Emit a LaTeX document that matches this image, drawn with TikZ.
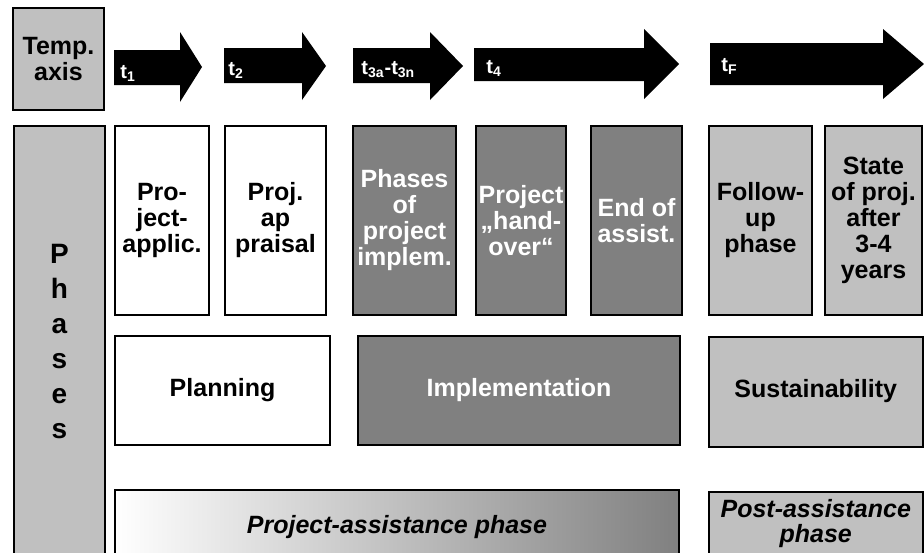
\documentclass[tikz,border=0pt]{standalone}
\usepackage{fontspec}
\setmainfont{Liberation Sans}
\definecolor{lightgr}{HTML}{C0C0C0}
\definecolor{darkgr}{HTML}{808080}
\tikzset{
  box/.style={draw, line width=1pt, align=center, inner sep=0pt, font=\fontsize{12.5}{13}\selectfont\bfseries},
  lightbox/.style={box, fill=lightgr},
  darkbox/.style={box, fill=darkgr, text=white},
  whitebox/.style={box, fill=white},
  tlabel/.style={anchor=west, text=white, inner sep=0pt, font=\fontsize{10}{11}\selectfont\bfseries},
}
\begin{document}
\begin{tikzpicture}[x=0.5pt, y=-0.5pt]
  \useasboundingbox (0,0) rectangle (924,552);
  \clip (0,0) rectangle (924,552);
  % time axis
  \node[lightbox, minimum width=45.5pt, minimum height=51pt] (axis) at (58.5,59) {Temp.\\axis};
  \fill (114,50) -- (180,50) -- (180,32) -- (202,67) -- (180,102) -- (180,85) -- (114,85) -- cycle;
  \fill (224,48) -- (302,48) -- (302,32) -- (326,66) -- (302,100) -- (302,83) -- (224,83) -- cycle;
  \fill (353,48) -- (430,48) -- (430,32) -- (463,66) -- (430,100) -- (430,83) -- (353,83) -- cycle;
  \fill (474,48) -- (644,48) -- (644,29) -- (679,64) -- (644,99) -- (644,81) -- (474,81) -- cycle;
  \fill (710,43) -- (883,43) -- (883,29) -- (924,64) -- (883,99) -- (883,85) -- (710,85) -- cycle;
  \node[tlabel] (t1) at (120,73) {t\textsubscript{1}};
  \node[tlabel] (t2) at (228,70) {t\textsubscript{2}};
  \node[tlabel] (t3) at (361,70) {t\textsubscript{3a}-t\textsubscript{3n}};
  \node[tlabel] (t4) at (486,68) {t\textsubscript{4}};
  \node[tlabel] (tF) at (721,66) {t\textsubscript{F}};
  % phases
  \node[lightbox, minimum width=45.5pt, minimum height=222pt] (phases) at (59.5,348) {};
  \node[align=center, inner sep=0pt, font=\fontsize{14}{17.5}\selectfont\bfseries] (phasestext) at (59.5,341) {P\\h\\a\\s\\e\\s};
  \node[whitebox, minimum width=47pt, minimum height=94.5pt] (applic) at (162,220.5) {Pro-\\ject-\\applic.};
  \node[whitebox, minimum width=50.5pt, minimum height=94.5pt] (appraisal) at (275.5,220.5) {Proj.\\ap\\praisal};
  \node[darkbox, minimum width=51.5pt, minimum height=94.5pt] (implem) at (404.5,220.5) {Phases\\of\\project\\implem.};
  \node[darkbox, minimum width=45pt, minimum height=94.5pt] (handover) at (521,220.5) {Project\\„hand-\\over“};
  \node[darkbox, minimum width=45.5pt, minimum height=94.5pt] (endassist) at (636.5,220.5) {End of\\assist.};
  \node[lightbox, minimum width=51.5pt, minimum height=94.5pt] (followup) at (760.5,220.5) {Follow-\\up\\phase};
  \node[lightbox, minimum width=48.5pt, minimum height=94.5pt] (state) at (873.5,220.5) {State\\of proj.\\after\\3-4\\years};
  % stages
  \node[whitebox, minimum width=107.5pt, minimum height=54.5pt] (planning) at (222.5,390.5) {Planning};
  \node[darkbox, minimum width=161pt, minimum height=54.5pt] (implementation) at (519,390.5) {Implementation};
  \node[lightbox, minimum width=106.75pt, minimum height=55pt] (sustain) at (815.75,391.5) {Sustainability};
  % assistance
  \node[box, left color=white, middle color=lightgr, right color=darkgr, minimum width=282pt, minimum height=37pt, font=\fontsize{12.5}{13}\selectfont\bfseries\itshape] (assist) at (397,527) {Project-assistance phase};
  \node[lightbox, minimum width=106.75pt, minimum height=31.5pt, font=\fontsize{12.5}{12.5}\selectfont\bfseries\itshape] (postassist) at (815.75,523.5) {Post-assistance\\phase};
\end{tikzpicture}
\end{document}
